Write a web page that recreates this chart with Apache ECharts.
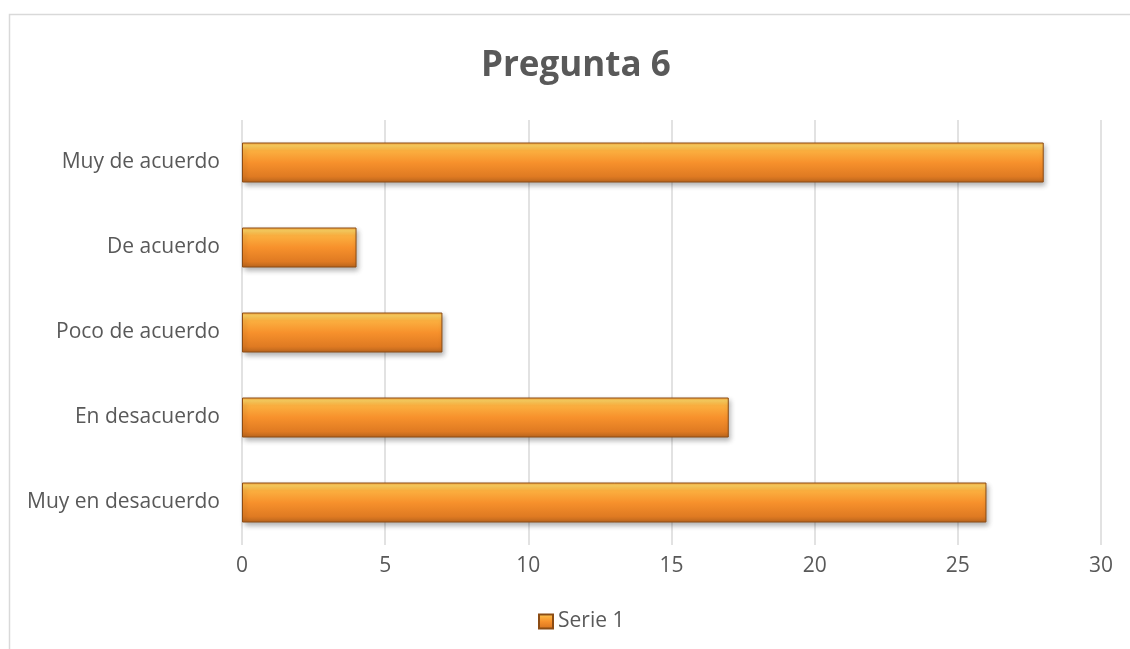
<!DOCTYPE html>
<html>
<head>
<meta charset="utf-8">
<script src="https://cdn.jsdelivr.net/npm/echarts@6/dist/echarts.min.js"></script>
<style>
html,body{margin:0;padding:0;background:#fff;}
#chart{width:1130px;height:649px;}
</style>
</head>
<body>
<div id="chart"></div>
<script>
const categories = ['Muy en desacuerdo', 'En desacuerdo', 'Poco de acuerdo', 'De acuerdo', 'Muy de acuerdo'];
const serie1 = [26, 17, 7, 4, 28];
const xTicks = [0, 5, 10, 15, 20, 25, 30];
const seriesName = 'Serie 1';
const titleText = 'Pregunta 6';

const font = '"Open Sans", Calibri, sans-serif';
const barFill = new echarts.graphic.LinearGradient(0, 0, 0, 1, [
  {offset: 0, color: '#f9a43a'},
  {offset: 0.08, color: '#fdd060'},
  {offset: 0.2, color: '#fbb040'},
  {offset: 0.5, color: '#f7912c'},
  {offset: 0.85, color: '#df7a22'},
  {offset: 1, color: '#b9651d'}
]);

const chart = echarts.init(document.getElementById('chart'), null, {renderer: 'canvas'});
chart.setOption({
  animation: false,
  backgroundColor: '#ffffff',
  graphic: [{
    type: 'rect',
    shape: {x: 9.5, y: 14.5, width: 1200, height: 700},
    style: {fill: 'none', stroke: '#d9d9d9', lineWidth: 1.5},
    silent: true
  }],
  title: {
    text: titleText,
    left: 476,
    top: 44,
    textStyle: {fontFamily: font, fontSize: 35, fontWeight: 'bold', color: '#595959'}
  },
  legend: {
    bottom: 12,
    left: 533,
    icon: 'rect',
    itemWidth: 14,
    itemHeight: 14,
    itemGap: 6,
    data: [seriesName],
    textStyle: {fontFamily: font, fontSize: 21, color: '#595959'}
  },
  grid: {left: 242, right: 29, top: 120, bottom: 104, containLabel: false},
  xAxis: {
    type: 'value',
    min: xTicks[0],
    max: xTicks[xTicks.length - 1],
    interval: 5,
    axisLine: {show: false},
    axisTick: {show: false},
    axisLabel: {fontFamily: font, fontSize: 21, color: '#595959', margin: 11},
    splitLine: {lineStyle: {color: '#d9d9d9', width: 1.5}}
  },
  yAxis: {
    type: 'category',
    data: categories,
    axisLine: {show: false},
    axisTick: {show: false},
    axisLabel: {fontFamily: font, fontSize: 21, color: '#595959', margin: 22}
  },
  series: [{
    name: seriesName,
    type: 'bar',
    data: serie1,
    barWidth: 40,
    itemStyle: {
      color: barFill,
      borderColor: '#8c4c14',
      borderWidth: 1,
      shadowColor: 'rgba(0,0,0,0.3)',
      shadowBlur: 5,
      shadowOffsetX: 2,
      shadowOffsetY: 3
    }
  }]
});
</script>
</body>
</html>
